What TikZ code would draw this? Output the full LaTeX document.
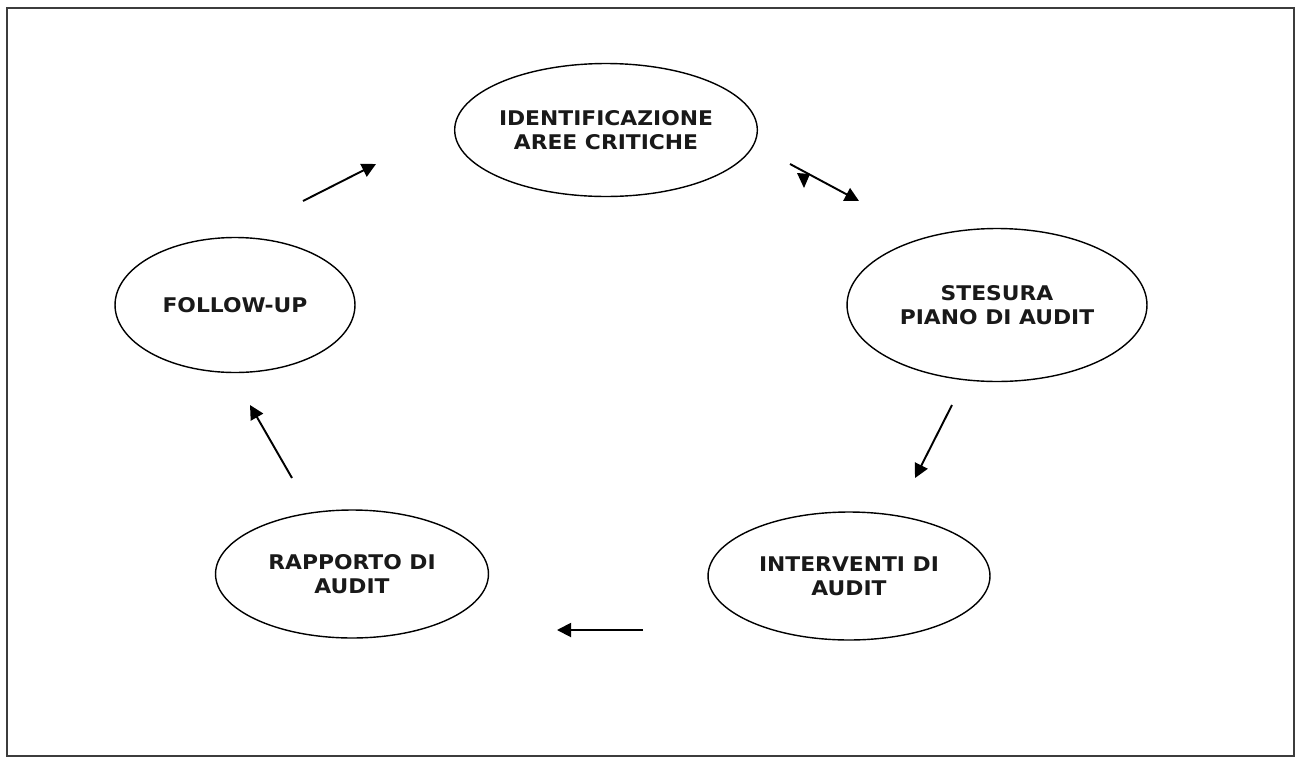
\documentclass[tikz,border=0pt]{standalone}
\usepackage{fontspec}
\setmainfont{DejaVu Sans}
\newfontfamily\phasefont{DejaVu Sans}[FakeStretch=1.08]
\usetikzlibrary{shapes.geometric,arrows.meta}
\definecolor{framegray}{RGB}{60,60,60}
\tikzset{basic/.style={draw,line width=0.8pt,inner sep=0pt,
                       font=\phasefont\bfseries\fontsize{11.5}{13.6}\selectfont,
                       text=black!90,align=center}}
\tikzset{phase/.style={basic,ellipse}}
\tikzset{flow/.style={-{Triangle[length=8pt,width=8pt]},line width=1.1pt}}

\begin{document}
\begin{tikzpicture}[x=0.02cm,y=-0.02cm]
    \useasboundingbox (0,0) rectangle (1295,758);
    \draw[framegray,line width=1.2pt] (7,8) rectangle (1294,756);

    % Phases
    \node[phase,minimum width=5.66cm,minimum height=2.66cm] (identif) at (606,130)
        {IDENTIFICAZIONE\\AREE CRITICHE};
    \node[phase,minimum width=6.0cm,minimum height=3.06cm] (stesura) at (997,305)
        {STESURA\\PIANO DI AUDIT};
    \node[phase,minimum width=5.64cm,minimum height=2.56cm] (interventi) at (849,576)
        {INTERVENTI DI\\AUDIT};
    \node[phase,minimum width=5.46cm,minimum height=2.56cm] (rapporto) at (352,574)
        {RAPPORTO DI\\AUDIT};
    \node[phase,minimum width=4.8cm,minimum height=2.7cm] (followup) at (235,305)
        {FOLLOW-UP};

    % Arrows
    \coordinate (s1) at (303,201);  \coordinate (t1) at (376,164);
    \coordinate (s2) at (790,164);  \coordinate (t2) at (859,201);
    \coordinate (s3) at (952,405);  \coordinate (t3) at (915,478);
    \coordinate (s4) at (643,630);  \coordinate (t4) at (557,630);
    \coordinate (s5) at (292,478);  \coordinate (t5) at (250,405);
    \foreach \i in {1,...,5}{%
          \draw[flow] (s\i) -- (t\i);
        }
    \fill (797,173) -- (810,174) -- (804,188) -- cycle;
\end{tikzpicture}
\end{document}
